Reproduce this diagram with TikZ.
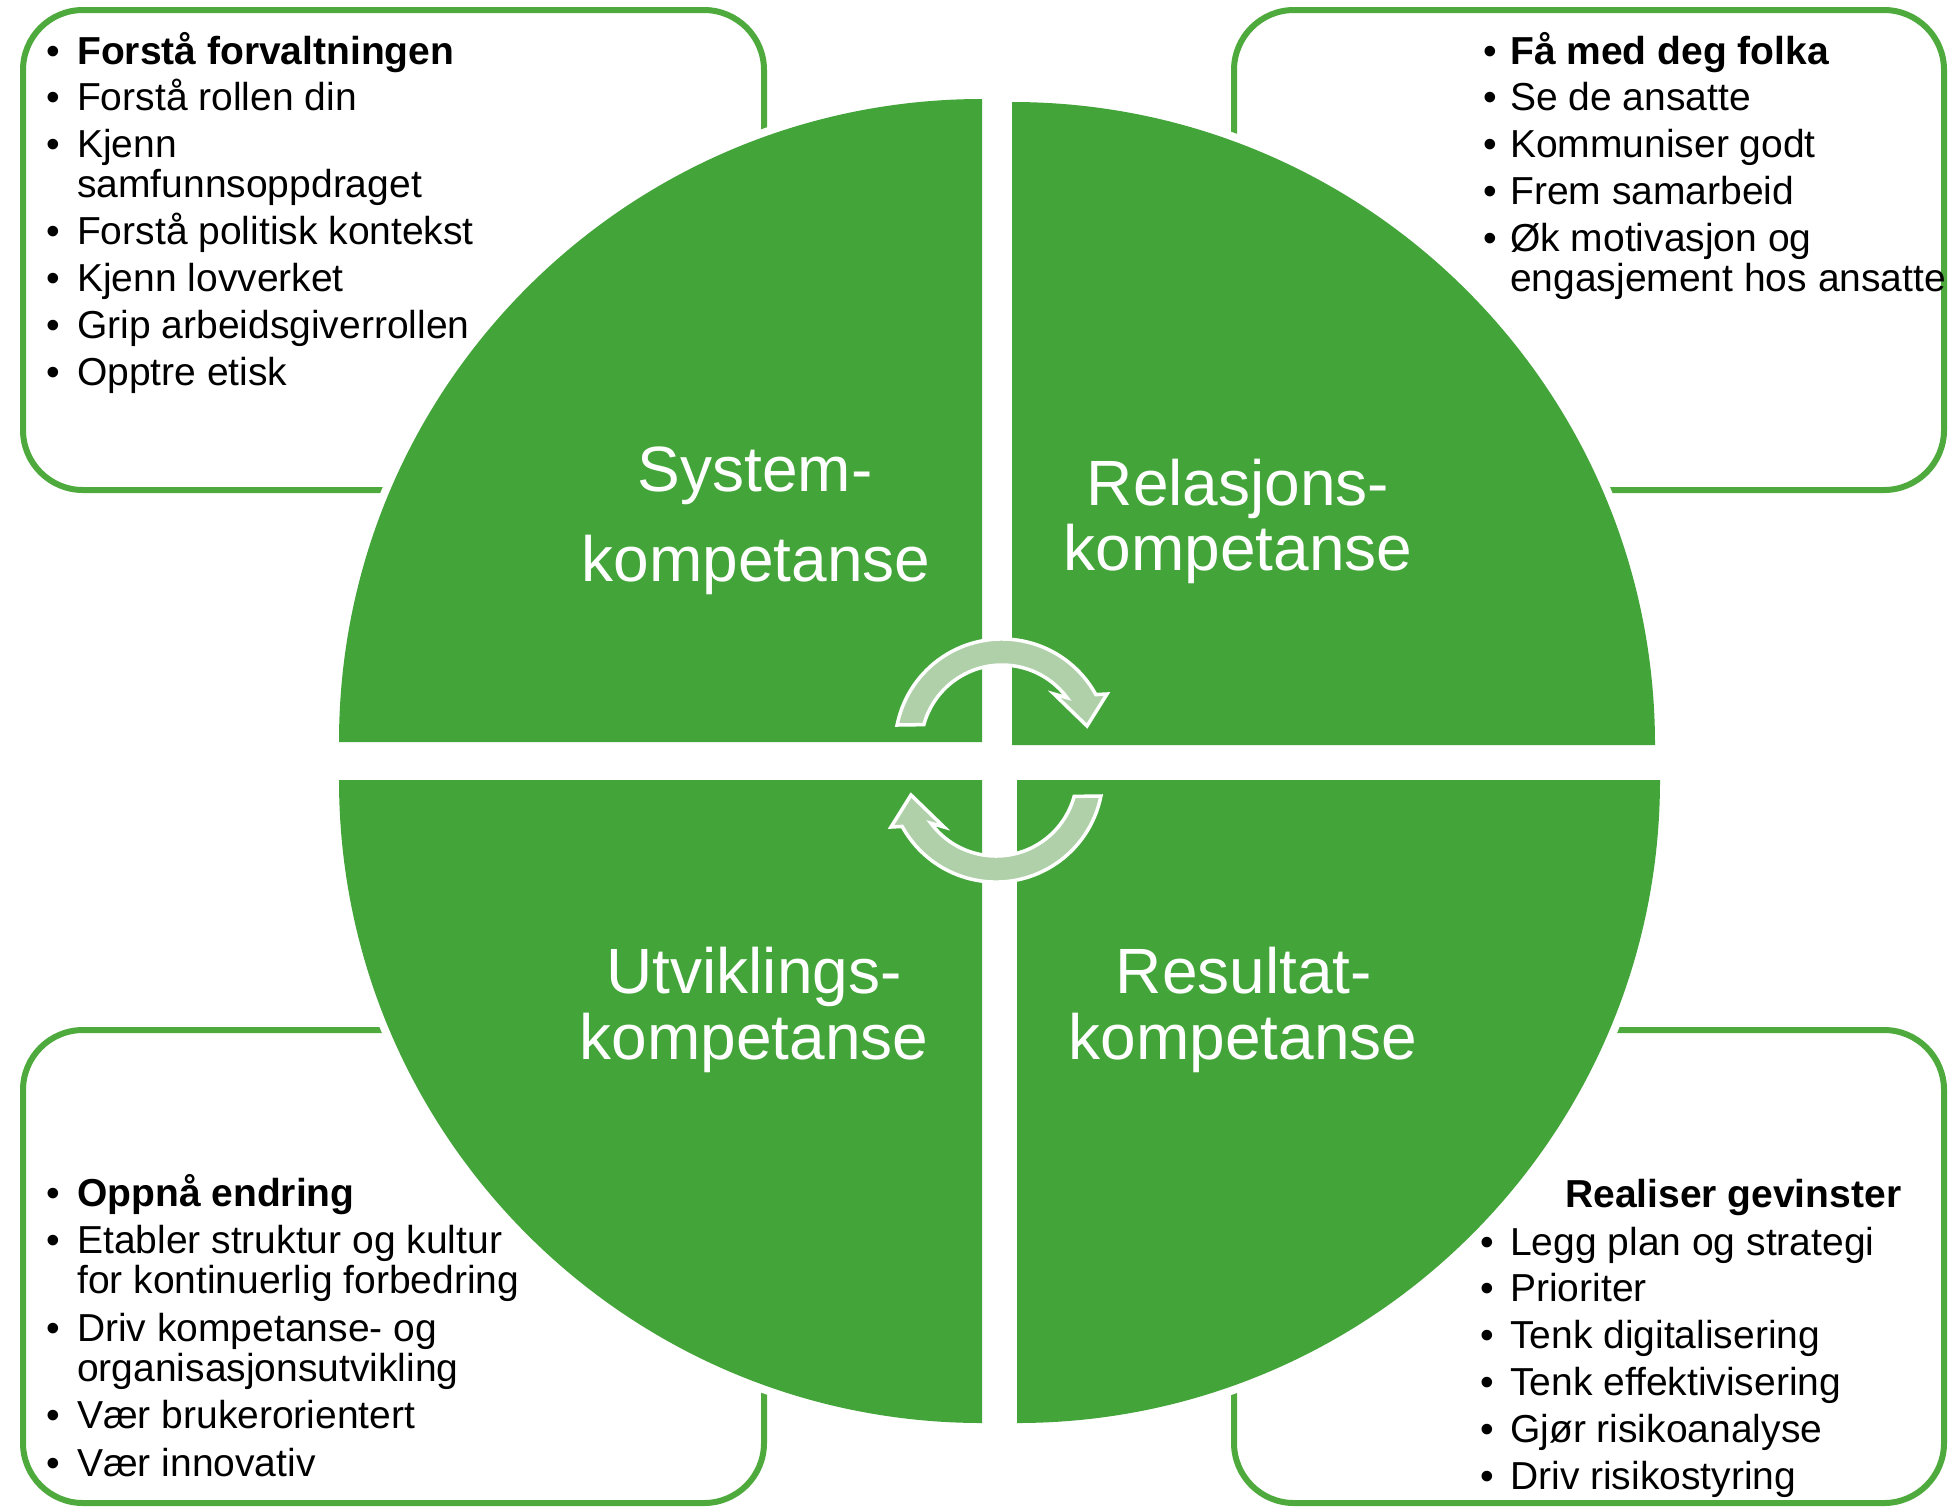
\documentclass[tikz,border=0pt]{standalone}
\usepackage{fontspec}
\setmainfont{Liberation Sans}
\newfontfamily\boxfont[WordSpace=0.8]{Liberation Sans}
\newfontfamily\labfont{Liberation Sans}
\definecolor{qgreen}{RGB}{67,164,57}
\definecolor{bgreen}{RGB}{78,170,60}
\definecolor{agreen}{RGB}{176,208,170}
\newlength\bulw
\newcommand\bu{\makebox[\bulw][l]{•}}
\newcommand\li[1]{\bu & \smash{#1}}
\newcommand\lc[1]{ & \smash{#1}}
\tikzset{
  boxframe/.style={draw=bgreen, line width=6pt, rounded corners=60pt},
  quad/.style={fill=qgreen},
  halo/.style={fill=white},
  cyc/.style={fill=agreen, draw=white, line width=3.5pt, line join=miter},
  lab/.style={text=white, font=\labfont\fontsize{64}{66}\selectfont, inner sep=0pt, anchor=base},
  items/.style={font=\boxfont\fontsize{39}{40}\selectfont, inner sep=0pt, anchor=base west, text=black},
}
\begin{document}
\begin{tikzpicture}[x=1pt,y=1pt]
\useasboundingbox (0,0) rectangle (1950,-1508);
\fill[white] (0,0) rectangle (1950,-1508);
% frames
\draw[boxframe] (23,-10) rectangle (764,-490);
\draw[boxframe] (1234,-10) rectangle (1944,-490);
\draw[boxframe] (23,-1030) rectangle (764,-1503);
\draw[boxframe] (1234,-1030) rectangle (1944,-1503);
% white halo round the circle
\fill[halo] (982,-742) -- ++(-651,0) arc[start angle=180,end angle=90,radius=651pt] -- cycle;
\fill[halo] (1012,-745) -- ++(0,651) arc[start angle=90,end angle=0,radius=651pt] -- cycle;
\fill[halo] (982,-780) -- ++(-651,0) arc[start angle=180,end angle=270,radius=651pt] -- cycle;
\fill[halo] (1017,-780) -- ++(651,0) arc[start angle=0,end angle=-90,radius=651pt] -- cycle;
% quadrants
\fill[quad] (982,-742) -- ++(-643,0) arc[start angle=180,end angle=90,radius=643pt] -- cycle;
\fill[quad] (1012,-745) -- ++(0,643) arc[start angle=90,end angle=0,radius=643pt] -- cycle;
\fill[quad] (982,-780) -- ++(-643,0) arc[start angle=180,end angle=270,radius=643pt] -- cycle;
\fill[quad] (1017,-780) -- ++(643,0) arc[start angle=0,end angle=-90,radius=643pt] -- cycle;
% circular arrows
\path[cyc] (897.1,-725) arc[start angle=168.7,end angle=28.7,radius=107pt]
  -- (1107,-694) -- (1087,-726) -- (1054,-694) -- (1067,-697.7)
  arc[start angle=36.6,end angle=164.7,radius=81pt] -- cycle;
\begin{scope}[rotate around={180:(999,-760.5)}]
\path[cyc] (897.1,-725) arc[start angle=168.7,end angle=28.7,radius=107pt]
  -- (1107,-694) -- (1087,-726) -- (1054,-694) -- (1067,-697.7)
  arc[start angle=36.6,end angle=164.7,radius=81pt] -- cycle;
\end{scope}
% quadrant labels
\node[lab] (sys1) at (755,-491) {System-};
\node[lab] (sys2) at (756,-581) {kompetanse};
\node[lab] (rel1) at (1238,-505) {Relasjons-};
\node[lab] (rel2) at (1238,-570) {kompetanse};
\node[lab] (utv1) at (754,-993) {Utviklings-};
\node[lab] (utv2) at (754,-1059) {kompetanse};
\node[lab] (res1) at (1244,-993) {Resultat-};
\node[lab] (res2) at (1243,-1059) {kompetanse};
% box texts
\node[items] (tl) at (46,-64) {\setlength\bulw{31pt}\begin{tabular}[t]{@{}l@{}l@{}}
\li{\textbf{Forstå forvaltningen}}\\[6.9pt]
\li{Forstå rollen din}\\[6.9pt]
\li{Kjenn}\\
\lc{samfunnsoppdraget}\\[6.9pt]
\li{Forstå politisk kontekst}\\[6.9pt]
\li{Kjenn lovverket}\\[6.9pt]
\li{Grip arbeidsgiverrollen}\\[6.9pt]
\li{Opptre etisk}
\end{tabular}};
\node[items] (tr) at (1483,-64) {\setlength\bulw{27pt}\begin{tabular}[t]{@{}l@{}l@{}}
\li{\textbf{Få med deg folka}}\\[6.8pt]
\li{Se de ansatte}\\[6.8pt]
\li{Kommuniser godt}\\[6.8pt]
\li{Frem samarbeid}\\[6.8pt]
\li{Øk motivasjon og}\\
\lc{engasjement hos ansatte}
\end{tabular}};
\node[items] (bl) at (46,-1206) {\setlength\bulw{31pt}\begin{tabular}[t]{@{}l@{}l@{}}
\li{\textbf{Oppnå endring}}\\[7.6pt]
\li{Etabler struktur og kultur}\\
\lc{for kontinuerlig forbedring}\\[7.6pt]
\li{Driv kompetanse- og}\\
\lc{organisasjonsutvikling}\\[7.6pt]
\li{Vær brukerorientert}\\[7.6pt]
\li{Vær innovativ}
\end{tabular}};
\node[items] (brh) at (1565,-1207) {\textbf{Realiser gevinster}};
\node[items] (br) at (1480,-1255) {\setlength\bulw{30pt}\begin{tabular}[t]{@{}l@{}l@{}}
\li{Legg plan og strategi}\\[6.8pt]
\li{Prioriter}\\[6.8pt]
\li{Tenk digitalisering}\\[6.8pt]
\li{Tenk effektivisering}\\[6.8pt]
\li{Gjør risikoanalyse}\\[6.8pt]
\li{Driv risikostyring}
\end{tabular}};
\end{tikzpicture}
\end{document}
